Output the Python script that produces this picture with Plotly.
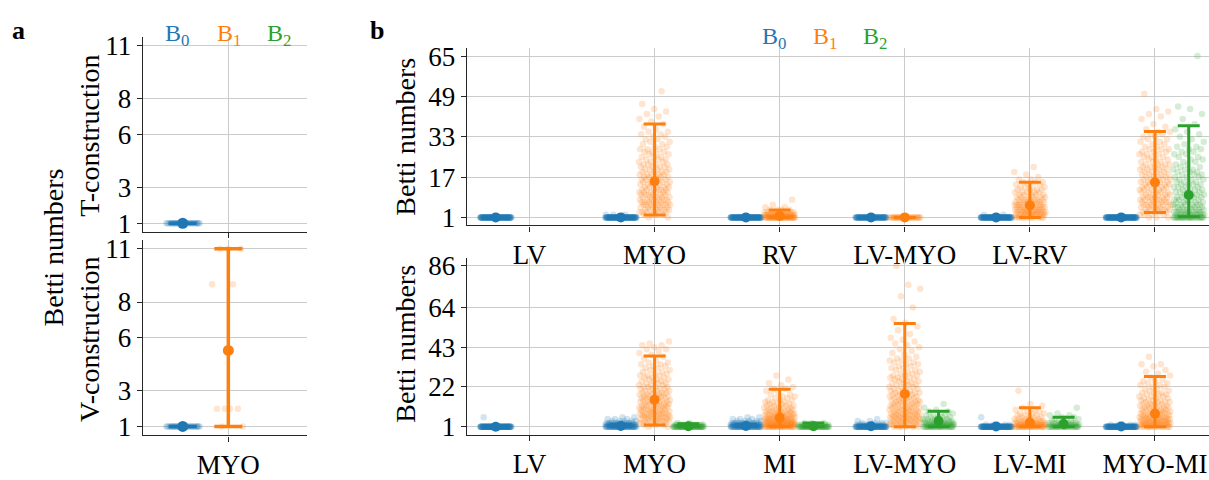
import plotly.graph_objects as go

W, H = 1209, 480
FONT = "Liberation Serif"
COLORS = ["#1f77b4", "#ff7f0e", "#2ca02c"]
OFFSETS = [-0.27, 0.0, 0.27]

# ---------------- data (counts of samples at Betti value 1, 2, 3, ...) -------------
A_CATS = ["MYO"]
A_T_B0 = [[30]]
A_T_B1 = [[]]
A_T_B2 = [[]]
A_T_MEAN = [[1.0], [None], [None]]
A_T_LO = [[1.0], [None], [None]]
A_T_HI = [[1.0], [None], [None]]

A_V_B0 = [[30]]
A_V_B1 = [[2, 4, 0, 0, 0, 0, 0, 0, 2, 0, 3]]
A_V_B2 = [[]]
A_V_MEAN = [[1.0], [5.28], [None]]
A_V_LO = [[1.0], [1.0], [None]]
A_V_HI = [[1.0], [11.0], [None]]

B_TOP_CATS = ["LV", "MYO", "RV", "LV-MYO", "LV-RV", "MYO-RV"]
B_TOP_B0 = [[100], [95, 3], [100], [80], [100, 2], [100]]
B_TOP_B1 = [
    [],
    [2, 4, 6, 6, 6, 7, 7, 6, 6, 6, 6, 6, 5, 5, 5, 5, 5, 5, 4, 4,
     4, 4, 3, 3, 3, 3, 3, 3, 2, 2, 2, 2, 2, 2, 2, 1, 1, 1, 1, 1,
     1, 1, 1, 1, 0, 1, 0, 0, 0, 0, 1],
    [40, 20, 10, 4, 2, 1, 0, 1],
    [30],
    [12, 13, 12, 11, 10, 9, 8, 7, 6, 5, 5, 4, 4, 3, 3, 2, 1, 1, 1, 0, 1],
    [3, 4, 5, 6, 6, 6, 6, 6, 6, 5, 5, 5, 5, 5, 5, 5, 4, 4, 4, 4,
     4, 4, 3, 3, 3, 3, 3, 3, 2, 2, 2, 2, 2, 2, 2, 1, 1, 1, 0, 1,
     1, 1, 1, 1, 0, 0, 0, 0, 0, 1],
]
B_TOP_B2 = [
    [], [], [], [], [],
    [25, 12, 9, 7, 6, 6, 5, 5, 5, 4, 4, 4, 4, 4, 3, 3, 3, 3, 3, 3,
     2, 2, 2, 2, 2, 2, 2, 2, 2, 1, 1, 1, 1, 1, 1, 1, 0, 1, 0, 1,
     0, 1, 0, 1, 1, 0, 0, 0, 0, 0, 0, 0, 0, 0, 0, 0, 0, 0, 0, 0,
     0, 0, 0, 0, 1],
]
B_TOP_MEAN = [[1.0, 1.0, 1.0, 1.0, 1.0, 1.0],
              [None, 15.3, 1.6, 1.0, 5.8, 14.9],
              [None, None, None, None, None, 9.9]]
B_TOP_LO = [[1.0, 1.0, 1.0, 1.0, 1.0, 1.0],
            [None, 1.9, 1.0, 1.0, 1.0, 2.9],
            [None, None, None, None, None, 1.3]]
B_TOP_HI = [[1.0, 1.0, 1.0, 1.0, 1.0, 1.0],
            [None, 38.0, 3.9, 1.0, 14.9, 35.1],
            [None, None, None, None, None, 37.4]]

B_BOT_CATS = ["LV", "MYO", "MI", "LV-MYO", "LV-MI", "MYO-MI"]
B_BOT_B0 = [[100, 0, 0, 0, 0, 1], [45, 25, 12, 5, 3, 2], [45, 25, 12, 5, 3, 2],
            [70, 12, 4, 2, 1], [90, 5, 0, 0, 0, 1], [90, 5]]
B_BOT_B1 = [
    [],
    [2, 4, 6, 6, 6, 7, 7, 6, 6, 6, 6, 6, 5, 5, 5, 5, 5, 5, 4, 4,
     4, 4, 3, 3, 3, 3, 3, 3, 2, 2, 2, 2, 2, 2, 2, 1, 1, 1, 1, 1,
     1, 2, 1, 2, 1, 1],
    [25, 18, 15, 12, 11, 9, 8, 7, 6, 5, 5, 4, 4, 3, 3, 2, 2, 2, 1, 1,
     2, 1, 1, 1, 0, 1, 0, 1],
    [6, 7, 7, 7, 7, 7, 7, 6, 6, 6, 5, 5, 5, 5, 5, 4, 4, 4, 4, 4,
     3, 3, 3, 3, 3, 3, 3, 3, 2, 2, 2, 2, 2, 2, 2, 2, 2, 1, 1, 1,
     1, 1, 1, 1, 1, 1, 1, 1, 0, 1, 0, 1, 0, 1, 0, 1, 0, 1, 0, 0,
     0, 0, 0, 1, 0, 0, 0, 0, 0, 1, 0, 0, 0, 1, 0, 1, 0, 0, 0, 0,
     0, 0, 0, 0, 0, 1],
    [25, 15, 10, 7, 5, 4, 3, 3, 2, 2, 1, 1, 1, 0, 0, 0, 0, 0, 0, 1],
    [15, 12, 11, 10, 9, 8, 7, 6, 6, 5, 5, 5, 4, 4, 4, 3, 3, 3, 3, 2,
     2, 2, 2, 2, 2, 1, 1, 1, 1, 1, 1, 0, 1, 2, 0, 0, 0, 1],
]
B_BOT_B2 = [
    [],
    [45, 12, 2],
    [40, 10, 3],
    [25, 15, 10, 7, 5, 4, 3, 2, 2, 1, 1, 0, 1],
    [25, 12, 7, 4, 3, 2, 2, 1, 0, 0, 1],
    [],
]
B_BOT_MEAN = [[1.0, 1.4, 1.4, 1.2, 1.05, 1.05],
              [None, 15.3, 5.7, 18.3, 3.2, 7.9],
              [None, 1.2, 1.2, 4.0, 2.4, None]]
B_BOT_LO = [[1.0, 1.0, 1.0, 1.0, 1.0, 1.0],
            [None, 1.9, 1.0, 1.0, 1.0, 1.0],
            [None, 1.0, 1.0, 1.0, 1.0, None]]
B_BOT_HI = [[1.0, 2.2, 2.2, 1.8, 1.1, 1.1],
            [None, 38.4, 20.8, 55.6, 11.0, 27.5],
            [None, 2.5, 3.0, 9.1, 6.0, None]]

A_YTICKS = [1, 3, 6, 8, 11]
B_TOP_YTICKS = [1, 17, 33, 49, 65]
B_BOT_YTICKS = [1, 22, 43, 64, 86]

# ---------------- figure ----------------
fig = go.Figure()


def add_panel(fig, xa, ya, groups, means, los, his, jitter, capw, thick, msize):
    for b in range(3):
        for ci, counts in enumerate(groups[b]):
            ys = []
            for v, c in enumerate(counts, start=1):
                ys += [v] * c
            if ys:
                xs = [ci + OFFSETS[b] + jitter * (2 * ((k * 0.6180339887 + 0.31) % 1.0) - 1)
                      for k in range(len(ys))]
                fig.add_trace(go.Scatter(
                    x=xs, y=ys, xaxis=xa, yaxis=ya, mode="markers",
                    marker=dict(size=6.5, color=COLORS[b], opacity=0.2, line=dict(width=0)),
                    showlegend=False, hoverinfo="skip"))
    for b in range(3):
        for ci in range(len(groups[b])):
            m = means[b][ci]
            if m is None:
                continue
            fig.add_trace(go.Scatter(
                x=[ci + OFFSETS[b]], y=[m], xaxis=xa, yaxis=ya, mode="markers",
                marker=dict(size=msize, color=COLORS[b]),
                error_y=dict(type="data", symmetric=False,
                             array=[his[b][ci] - m], arrayminus=[m - los[b][ci]],
                             color=COLORS[b], thickness=thick, width=capw),
                showlegend=False, hoverinfo="skip"))


add_panel(fig, "x", "y", [A_T_B0, A_T_B1, A_T_B2], A_T_MEAN, A_T_LO, A_T_HI, 0.1, 14, 3.5, 11)
add_panel(fig, "x2", "y2", [A_V_B0, A_V_B1, A_V_B2], A_V_MEAN, A_V_LO, A_V_HI, 0.1, 14, 3.5, 11)
add_panel(fig, "x3", "y3", [B_TOP_B0, B_TOP_B1, B_TOP_B2], B_TOP_MEAN, B_TOP_LO, B_TOP_HI, 0.125, 11, 3, 10)
add_panel(fig, "x4", "y4", [B_BOT_B0, B_BOT_B1, B_BOT_B2], B_BOT_MEAN, B_BOT_LO, B_BOT_HI, 0.125, 11, 3, 10)

AX = dict(showline=True, linecolor="#262626", linewidth=1.3, ticks="outside", ticklen=5,
          tickwidth=1.3, tickcolor="#262626", showgrid=True, gridcolor="#cccccc",
          gridwidth=1.1, zeroline=False, mirror=False,
          tickfont=dict(family=FONT, size=27, color="black"))


def px_x(p):
    return p / W


def px_y(p):
    return 1 - p / H


def yrange(lo, hi):
    pad = (hi - lo) * 0.05
    return [lo - pad, hi + pad]


ax_a_dom = [px_x(142.7), px_x(306.7)]
ax_b_dom = [px_x(466.7), 1.0]

fig.update_layout(
    width=W, height=H, margin=dict(l=0, r=0, t=0, b=0),
    paper_bgcolor="white", plot_bgcolor="white", showlegend=False,
    xaxis=dict(AX, domain=ax_a_dom, anchor="y", range=[-0.507, 0.464],
               tickvals=list(range(len(A_CATS))), ticktext=A_CATS, showticklabels=False),
    yaxis=dict(AX, domain=[px_y(237), px_y(32)], anchor="x", range=yrange(1, 11),
               tickvals=A_YTICKS),
    xaxis2=dict(AX, domain=ax_a_dom, anchor="y2", range=[-0.507, 0.464],
                tickvals=list(range(len(A_CATS))), ticktext=A_CATS),
    yaxis2=dict(AX, domain=[px_y(450), px_y(245)], anchor="x2", range=yrange(1, 11),
                tickvals=A_YTICKS),
    xaxis3=dict(AX, domain=ax_b_dom, anchor="y3", range=[-0.502, 5.432],
                tickvals=list(range(len(B_TOP_CATS))), ticktext=B_TOP_CATS),
    yaxis3=dict(AX, domain=[px_y(230), px_y(44)], anchor="x3", range=yrange(1, 65),
                tickvals=B_TOP_YTICKS),
    xaxis4=dict(AX, domain=ax_b_dom, anchor="y4", range=[-0.502, 5.432],
                tickvals=list(range(len(B_BOT_CATS))), ticktext=B_BOT_CATS),
    yaxis4=dict(AX, domain=[px_y(449.3), px_y(264)], anchor="x4", range=yrange(1, 86),
                tickvals=B_BOT_YTICKS),
)

ann = []


def text(x, y, s, size=28, color="black", angle=0):
    ann.append(dict(x=px_x(x), y=px_y(y), xref="paper", yref="paper", text=s,
                    showarrow=False, xanchor="center", yanchor="middle", textangle=angle,
                    font=dict(family=FONT, size=size, color=color)))


text(18, 26, "<b>a</b>", size=26)
text(377, 26, "<b>b</b>", size=26)
text(53, 253, "Betti numbers", size=28, angle=-90)
text(90, 136, "T-construction", size=28, angle=-90)
text(90, 350, "V-construction", size=28, angle=-90)
text(406, 137, "Betti numbers", size=28, angle=-90)
text(406, 354, "Betti numbers", size=28, angle=-90)
for i, xc in enumerate([177, 229, 279]):
    text(xc, 30, "B<sub>%d</sub>" % i, size=24, color=COLORS[i])
for i, xc in enumerate([774, 825, 875]):
    text(xc, 34, "B<sub>%d</sub>" % i, size=24, color=COLORS[i])

fig.update_layout(annotations=ann)
fig.write_html("out.html")
